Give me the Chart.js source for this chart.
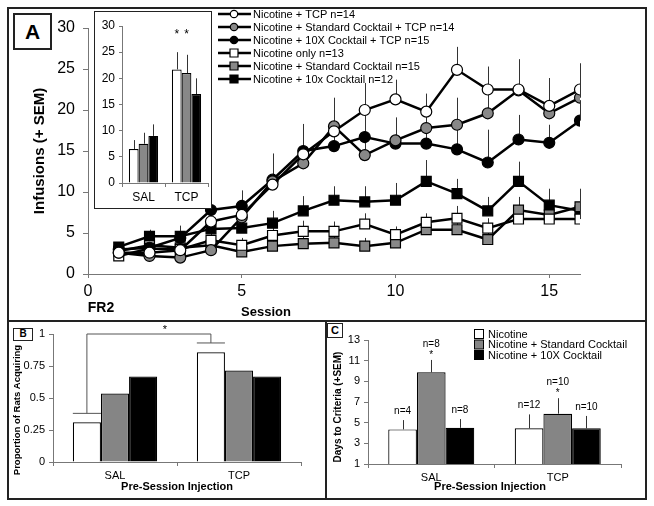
<!DOCTYPE html>
<html>
<head>
<meta charset="utf-8">
<script src="https://cdn.jsdelivr.net/npm/chart.js@4.4.1/dist/chart.umd.min.js"></script>
<style>
  body { margin: 0; background: #fff; width: 654px; height: 506px; position: relative; overflow: hidden;
         font-family: "Liberation Sans", Arial, sans-serif; }
  .panel { position: absolute; box-sizing: border-box; border: 2px solid #222; }
  .tag { position: absolute; box-sizing: border-box; border: 1.5px solid #222; font-weight: bold;
         text-align: center; background: #fff; }
  canvas { position: absolute; }
</style>
</head>
<body>
<div class="panel" style="left:7px;top:7px;width:640px;height:315px"></div>
<div class="panel" style="left:7px;top:320px;width:320px;height:180px"></div>
<div class="panel" style="left:325px;top:320px;width:322px;height:180px"></div>

<canvas id="main" width="654" height="322" style="left:0;top:0"></canvas>
<div class="tag" style="left:13px;top:13px;width:39px;height:37px;font-size:21px;line-height:33px;border-width:2px">A</div>

<div class="panel" style="left:94px;top:11px;width:118px;height:198px;border-width:1.5px;background:#fff"></div>
<canvas id="inset" width="115" height="195" style="left:95px;top:12px"></canvas>

<canvas id="panelB" width="317" height="175" style="left:8px;top:322px"></canvas>
<div class="tag" style="left:13px;top:328px;width:20px;height:13px;font-size:10px;line-height:10px">B</div>

<canvas id="panelC" width="318" height="175" style="left:327px;top:322px"></canvas>
<div class="tag" style="left:327px;top:323px;width:16px;height:15px;font-size:11px;line-height:12px">C</div>

<script>
// ---- panel A: infusions per session ----
const sessions = [1, 2, 3, 4, 5, 6, 7, 8, 9, 10, 11, 12, 13, 14, 15, 16];
const xTicksA = [0, 5, 10, 15];
const yTicksA = [0, 5, 10, 15, 20, 25, 30];

const nicTcp   = [2.6, 2.6, 2.9, 6.4, 7.2, 10.9, 14.6, 17.4, 20.0, 21.3, 19.8, 24.9, 22.5, 22.5, 20.5, 22.5];
const stdTcp   = [2.6, 2.2, 2.0, 2.9, 6.9, 11.3, 13.5, 18.0, 14.5, 16.3, 17.8, 18.2, 19.6, 22.4, 19.6, 21.5];
const tenTcp   = [3.0, 3.2, 4.4, 7.8, 8.3, 11.5, 15.0, 15.6, 16.7, 15.9, 15.9, 15.2, 13.6, 16.4, 16.0, 18.7];
const nicOnly  = [2.2, 3.1, 3.0, 4.1, 3.5, 4.7, 5.2, 5.2, 6.1, 4.8, 6.3, 6.8, 5.6, 6.7, 6.7, 6.7];
const stdOnly  = [2.8, 3.5, 3.2, 3.5, 2.7, 3.4, 3.7, 3.8, 3.4, 3.8, 5.4, 5.4, 4.2, 7.8, 7.2, 8.2];
const tenOnly  = [3.3, 4.6, 4.6, 5.5, 5.6, 6.2, 7.7, 9.0, 8.8, 9.0, 11.3, 9.8, 7.7, 11.3, 8.4, 7.7];

const nicTcpSem  = [0.4, 0.5, 0.6, 1.5, 2.0, 2.5, 3.0, 3.0, 3.3, 2.4, 2.2, 2.8, 2.8, 3.7, 3.4, 3.2];
const stdTcpSem  = [0.4, 0.5, 0.5, 1.2, 1.6, 2.4, 2.8, 3.5, 4.6, 2.8, 3.0, 3.3, 3.0, 3.5, 3.3, 3.5];
const tenTcpSem  = [0.6, 0.8, 1.0, 1.9, 1.9, 3.2, 3.3, 3.0, 3.0, 2.8, 2.6, 2.6, 4.0, 3.0, 2.2, 2.5];
const nicOnlySem = [0.4, 0.6, 0.7, 1.0, 0.9, 1.1, 1.3, 1.2, 1.3, 1.0, 1.1, 1.5, 1.2, 1.3, 1.2, 1.2];
const stdOnlySem = [0.4, 0.5, 0.6, 0.8, 0.8, 0.9, 1.0, 1.0, 1.0, 1.0, 1.2, 1.2, 1.0, 1.6, 1.4, 1.6];
const tenOnlySem = [0.6, 0.8, 1.3, 1.5, 1.9, 1.5, 1.8, 1.7, 1.9, 2.1, 2.6, 1.8, 1.7, 2.4, 2.0, 2.7];

const seriesNames = [
  "Nicotine + TCP n=14",
  "Nicotine + Standard Cocktail + TCP n=14",
  "Nicotine + 10X Cocktail + TCP n=15",
  "Nicotine only n=13",
  "Nicotine + Standard Cocktail n=15",
  "Nicotine + 10x Cocktail n=12"
];

// inset: mean infusions
const insetCats = ["SAL", "TCP"];
const yTicksInset = [0, 5, 10, 15, 20, 25, 30];
const insetNic = [6.5, 21.7];
const insetStd = [7.5, 21.0];
const insetTen = [9.0, 17.0];
const insetNicSem = [1.7, 3.3];
const insetStdSem = [2.1, 3.5];
const insetTenSem = [2.2, 3.0];

// ---- panel B: proportion acquiring ----
const groupCats = ["SAL", "TCP"];
const yTicksB = [0, 0.25, 0.5, 0.75, 1];
const propNic = [0.31, 0.857];
const propStd = [0.535, 0.714];
const propTen = [0.667, 0.667];

// ---- panel C: days to criteria ----
const yTicksC = [1, 3, 5, 7, 9, 11, 13];
const daysNic = [4.35, 4.45];
const daysStd = [9.87, 5.87];
const daysTen = [4.5, 4.45];
const daysNicSem = [0.9, 1.35];
const daysStdSem = [1.2, 1.5];
const daysTenSem = [0.85, 1.2];
const nNic = ["n=4", "n=12"];
const nStd = ["n=8", "n=10"];
const nTen = ["n=8", "n=10"];
const barNames = ["Nicotine", "Nicotine + Standard Cocktail", "Nicotine + 10X Cocktail"];

const WHITE = "#ffffff", GRAY = "#888888", BLACK = "#000000";
const FONT = '"Liberation Sans", Arial, sans-serif';

Chart.defaults.font.family = FONT;
Chart.defaults.color = "#000";

// upward error whiskers, drawn from each element through the y scale
const errorBars = {
  id: "errorBars",
  beforeDatasetsDraw(chart, args, opts) { if (opts.before) drawErr(chart); },
  afterDatasetsDraw(chart, args, opts) { if (!opts.before) drawErr(chart); }
};
function drawErr(chart) {
  const ctx = chart.ctx;
  ctx.save();
  ctx.strokeStyle = "#333";
  ctx.lineWidth = 1;
  chart.data.datasets.forEach((ds, i) => {
    if (!ds.errUp) return;
    const meta = chart.getDatasetMeta(i);
    const ys = chart.scales[meta.yAxisID];
    meta.data.forEach((el, j) => {
      const v = typeof ds.data[j] === "object" ? ds.data[j].y : ds.data[j];
      const top = ys.getPixelForValue(v + ds.errUp[j]);
      ctx.beginPath();
      ctx.moveTo(Math.round(el.x) + 0.5, el.y);
      ctx.lineTo(Math.round(el.x) + 0.5, top);
      ctx.stroke();
    });
  });
  ctx.restore();
}

function marker(ctx, style, fill, x, y, r) {
  ctx.beginPath();
  if (style === "rect") ctx.rect(x - r, y - r, 2 * r, 2 * r);
  else ctx.arc(x, y, r, 0, Math.PI * 2);
  ctx.fillStyle = fill;
  ctx.fill();
  ctx.lineWidth = 1.2;
  ctx.strokeStyle = "#000";
  ctx.stroke();
}

function rotText(ctx, text, x, y, font) {
  ctx.save();
  ctx.translate(x, y);
  ctx.rotate(-Math.PI / 2);
  ctx.font = font;
  ctx.textAlign = "center";
  ctx.textBaseline = "middle";
  ctx.fillStyle = "#000";
  ctx.fillText(text, 0, 0);
  ctx.restore();
}

function axisY(min, max, ticks, size, width, tickLen, pad) {
  return {
    min, max,
    afterBuildTicks: s => { s.ticks = ticks.map(v => ({ value: v })); },
    ticks: { font: { size }, padding: pad || 4, callback: v => String(v) },
    grid: { drawOnChartArea: false, tickLength: tickLen, color: "#777" },
    border: { color: "#777", width: 1 },
    afterFit: s => { s.width = width; }
  };
}
function axisX(size, height) {
  return {
    ticks: { font: { size }, padding: 3 },
    grid: { drawOnChartArea: false, tickLength: 4, color: "#777", offset: true },
    border: { color: "#777", width: 1 },
    afterFit: s => { s.height = height; }
  };
}

const baseOpts = {
  responsive: false,
  animation: false,
  devicePixelRatio: 1,
};

// ---------- main chart ----------
function series(i, values, errs, style, fill) {
  return {
    label: seriesNames[i],
    data: sessions.map((s, k) => ({ x: s, y: values[k] })),
    errUp: errs,
    borderColor: "#000",
    borderWidth: 2.5,
    tension: 0,
    pointStyle: style,
    pointRadius: style === "rect" ? 7 : 5.5,
    pointBackgroundColor: fill,
    pointBorderColor: "#000",
    pointBorderWidth: 1.2
  };
}

new Chart(document.getElementById("main"), {
  type: "line",
  data: {
    datasets: [
      series(0, nicTcp, nicTcpSem, "circle", WHITE),
      series(1, stdTcp, stdTcpSem, "circle", GRAY),
      series(2, tenTcp, tenTcpSem, "circle", BLACK),
      series(3, nicOnly, nicOnlySem, "rect", WHITE),
      series(4, stdOnly, stdOnlySem, "rect", GRAY),
      series(5, tenOnly, tenOnlySem, "rect", BLACK)
    ]
  },
  options: {
    ...baseOpts,
    layout: { padding: { left: 0, right: 74, top: 28, bottom: 0 } },
    plugins: { legend: { display: false }, tooltip: { enabled: false }, errorBars: { before: true } },
    scales: {
      x: {
        type: "linear", min: 0, max: 16,
        afterBuildTicks: s => { s.ticks = xTicksA.map(v => ({ value: v })); },
        ticks: { font: { size: 16 }, padding: 4 },
        grid: { drawOnChartArea: false, tickLength: 4, color: "#777" },
        border: { color: "#777", width: 1 },
        afterFit: s => { s.height = 48; }
      },
      y: axisY(0, 30, yTicksA, 16, 88, 5, 8)
    }
  },
  plugins: [errorBars, {
    id: "decorA",
    afterDraw(chart) {
      const ctx = chart.ctx;
      rotText(ctx, "Infusions (+ SEM)", 40, 151, "bold 15px " + FONT);
      ctx.save();
      ctx.fillStyle = "#000";
      ctx.textAlign = "center";
      ctx.textBaseline = "middle";
      ctx.font = "bold 14px " + FONT;
      ctx.fillText("FR2", 101, 308);
      ctx.font = "bold 13px " + FONT;
      ctx.fillText("Session", 266, 312);
      // legend: line + marker + text
      ctx.font = "11px " + FONT;
      ctx.textAlign = "left";
      chart.data.datasets.forEach((ds, i) => {
        const y = 14 + 13 * i;
        ctx.beginPath();
        ctx.moveTo(218, y);
        ctx.lineTo(251, y);
        ctx.lineWidth = 2.5;
        ctx.strokeStyle = "#000";
        ctx.stroke();
        marker(ctx, ds.pointStyle, ds.pointBackgroundColor, 234, y, ds.pointStyle === "rect" ? 4 : 3.7);
        ctx.fillStyle = "#000";
        ctx.fillText(ds.label, 253, y + 0.5);
      });
      ctx.restore();
    }
  }]
});

// ---------- inset ----------
function bars(label, values, fill, errs) {
  return {
    label, data: values, errUp: errs,
    backgroundColor: fill, borderColor: "#000", borderWidth: 1.2,
    barPercentage: 1, categoryPercentage: 0.68
  };
}

new Chart(document.getElementById("inset"), {
  type: "bar",
  data: {
    labels: insetCats,
    datasets: [
      bars(barNames[0], insetNic, WHITE, insetNicSem),
      bars(barNames[1], insetStd, GRAY, insetStdSem),
      bars(barNames[2], insetTen, BLACK, insetTenSem)
    ]
  },
  options: {
    ...baseOpts,
    layout: { padding: { left: 0, right: 2, top: 14, bottom: 0 } },
    plugins: { legend: { display: false }, tooltip: { enabled: false }, errorBars: { before: false } },
    scales: { x: axisX(12, 24), y: axisY(0, 30, yTicksInset, 12, 27, 3) }
  },
  plugins: [errorBars, {
    id: "starsInset",
    afterDraw(chart) {
      const ctx = chart.ctx, ys = chart.scales.y;
      ctx.save();
      ctx.font = "12px " + FONT;
      ctx.textAlign = "center";
      ctx.textBaseline = "middle";
      ctx.fillStyle = "#000";
      [0, 1].forEach(d => {
        const el = chart.getDatasetMeta(d).data[1];
        ctx.fillText("*", el.x, ys.getPixelForValue(28.4));
      });
      ctx.restore();
    }
  }]
});

// ---------- panel B ----------
new Chart(document.getElementById("panelB"), {
  type: "bar",
  data: {
    labels: groupCats,
    datasets: [
      bars(barNames[0], propNic, WHITE),
      bars(barNames[1], propStd, "#858585"),
      bars(barNames[2], propTen, BLACK)
    ]
  },
  options: {
    ...baseOpts,
    layout: { padding: { left: 0, right: 24, top: 12, bottom: 0 } },
    plugins: { legend: { display: false }, tooltip: { enabled: false } },
    scales: { x: axisX(11, 35), y: axisY(0, 1, yTicksB, 11, 45, 4) }
  },
  plugins: [{
    id: "decorB",
    afterDraw(chart) {
      const ctx = chart.ctx, ys = chart.scales.y;
      const a = chart.getDatasetMeta(0).data[0];
      const b = chart.getDatasetMeta(0).data[1];
      const yA = ys.getPixelForValue(0.38), yTop = ys.getPixelForValue(1), yB = ys.getPixelForValue(0.93);
      ctx.save();
      ctx.strokeStyle = "#555";
      ctx.lineWidth = 1;
      ctx.beginPath();
      ctx.moveTo(a.x - a.width / 2, yA); ctx.lineTo(a.x + a.width / 2, yA);
      ctx.moveTo(a.x, yA); ctx.lineTo(a.x, yTop); ctx.lineTo(b.x, yTop); ctx.lineTo(b.x, yB);
      ctx.moveTo(b.x - b.width / 2, yB); ctx.lineTo(b.x + b.width / 2, yB);
      ctx.stroke();
      ctx.fillStyle = "#000";
      ctx.textAlign = "center";
      ctx.textBaseline = "middle";
      ctx.font = "11px " + FONT;
      ctx.fillText("*", a.x + 0.63 * (b.x - a.x), yTop - 4);
      ctx.font = "bold 11px " + FONT;
      ctx.fillText("Pre-Session Injection", 169, 165);
      ctx.restore();
      rotText(ctx, "Proportion of Rats Acquiring", 9, 88, "bold 9.5px " + FONT);
    }
  }]
});

// ---------- panel C ----------
new Chart(document.getElementById("panelC"), {
  type: "bar",
  data: {
    labels: groupCats,
    datasets: [
      bars(barNames[0], daysNic, WHITE, daysNicSem),
      bars(barNames[1], daysStd, "#858585", daysStdSem),
      bars(barNames[2], daysTen, BLACK, daysTenSem)
    ]
  },
  options: {
    ...baseOpts,
    layout: { padding: { left: 0, right: 24, top: 18, bottom: 0 } },
    plugins: { legend: { display: false }, tooltip: { enabled: false }, errorBars: { before: false } },
    scales: { x: axisX(11, 33), y: axisY(1, 13, yTicksC, 11, 41, 4) }
  },
  plugins: [errorBars, {
    id: "decorC",
    afterDraw(chart) {
      const ctx = chart.ctx, ys = chart.scales.y;
      const nLabels = [nNic, nStd, nTen];
      ctx.save();
      ctx.fillStyle = "#000";
      ctx.textAlign = "center";
      ctx.textBaseline = "middle";
      chart.data.datasets.forEach((ds, i) => {
        chart.getDatasetMeta(i).data.forEach((el, j) => {
          const top = ys.getPixelForValue(ds.data[j] + ds.errUp[j]);
          ctx.font = "10px " + FONT;
          if (i === 1) {
            ctx.fillText(nLabels[i][j], el.x, top - 16);
            ctx.fillText("*", el.x, top - 5);
          } else {
            ctx.fillText(nLabels[i][j], el.x, top - 9);
          }
        });
      });
      // legend
      ctx.textAlign = "left";
      ctx.font = "11px " + FONT;
      chart.data.datasets.forEach((ds, i) => {
        const y = 12 + 10.5 * i;
        ctx.fillStyle = ds.backgroundColor;
        ctx.fillRect(147.5, y - 4.5, 9, 9);
        ctx.strokeStyle = "#000";
        ctx.lineWidth = 1;
        ctx.strokeRect(147.5, y - 4.5, 9, 9);
        ctx.fillStyle = "#000";
        ctx.fillText(ds.label, 161, y + 0.5);
      });
      ctx.font = "bold 11px " + FONT;
      ctx.textAlign = "center";
      ctx.fillText("Pre-Session Injection", 163, 165);
      ctx.restore();
      rotText(ctx, "Days to Criteria (+SEM)", 11, 85, "bold 10px " + FONT);
    }
  }]
});
</script>
</body>
</html>
